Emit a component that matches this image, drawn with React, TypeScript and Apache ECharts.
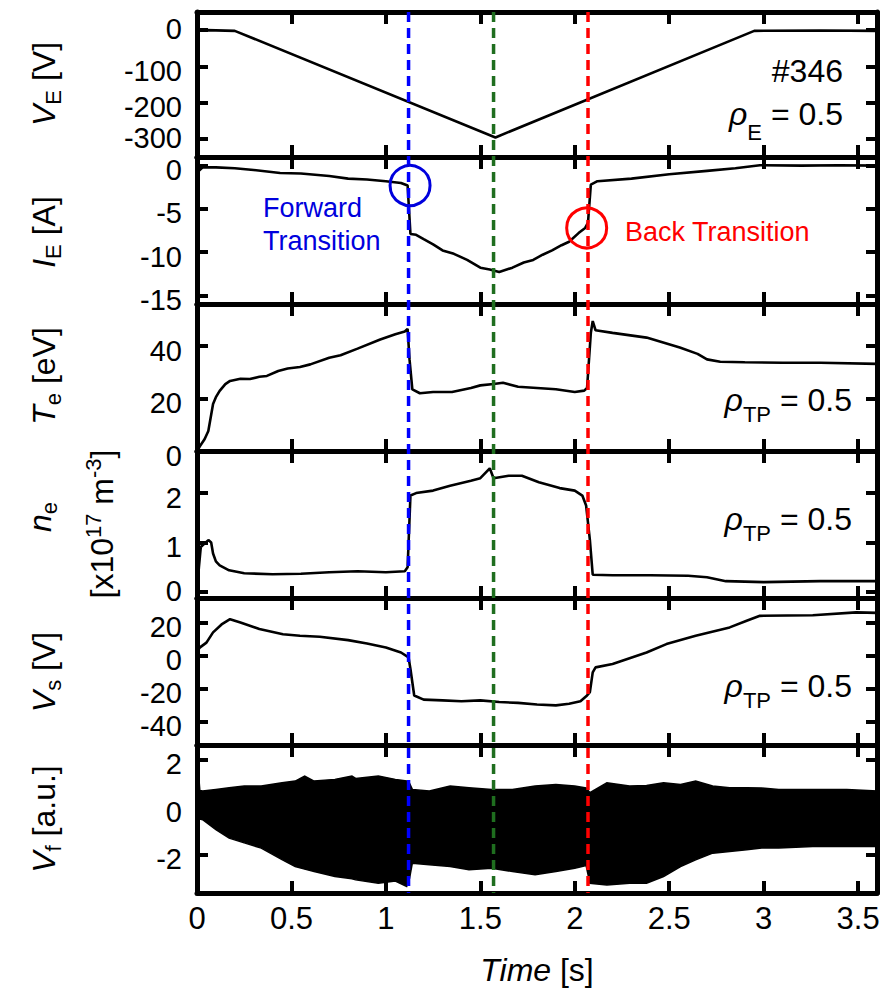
import React, { useEffect, useRef } from 'react';
import * as echarts from 'echarts';

const FONT = '"Liberation Sans", Arial, Helvetica, sans-serif';

// ---------------- data ----------------
const timeVE = [0, 0.05, 0.2, 1.58, 2.95, 3.3, 3.6];
const valVE = [-1, 0, -2, -296, -2, -1, -2];

const timeIE = [0, 0.01, 0.03, 0.1, 0.2, 0.3, 0.44, 0.55, 0.7, 0.8, 0.9, 1.0, 1.08, 1.115, 1.13, 1.16, 1.2, 1.25, 1.3, 1.36, 1.43, 1.5, 1.55, 1.6, 1.67, 1.73, 1.78, 1.83, 1.88, 1.93, 1.97, 2.02, 2.055, 2.07, 2.085, 2.12, 2.3, 2.5, 2.7, 2.85, 2.98, 3.2, 3.4, 3.6];
const valIE = [-0.3, -0.6, -0.2, -0.2, -0.3, -0.5, -0.85, -0.9, -1.2, -1.5, -1.6, -1.8, -2.0, -2.3, -7.9, -8.0, -8.5, -9.1, -9.8, -10.2, -10.9, -11.8, -12.0, -12.3, -11.8, -11.2, -10.9, -10.3, -9.8, -9.2, -8.8, -7.8, -7.2, -6.6, -2.2, -1.8, -1.5, -1.0, -0.6, -0.3, 0.05, 0, 0.05, 0];

const timeTe = [0, 0.016, 0.04, 0.06, 0.085, 0.1, 0.12, 0.15, 0.175, 0.23, 0.28, 0.33, 0.37, 0.43, 0.48, 0.545, 0.6, 0.7, 0.76, 0.85, 0.97, 1.05, 1.1, 1.115, 1.125, 1.14, 1.18, 1.25, 1.35, 1.45, 1.5, 1.57, 1.62, 1.7, 1.8, 1.9, 2.0, 2.05, 2.065, 2.085, 2.095, 2.11, 2.2, 2.38, 2.556, 2.65, 2.7, 2.77, 2.9, 3.1, 3.3, 3.6];
const valTe = [0, 1.9, 4.5, 7.6, 17.9, 20.5, 22.9, 25.5, 26.7, 27.5, 27.4, 28.3, 28.6, 30.5, 31.4, 32, 33, 35.5, 36.5, 39, 42.5, 44.5, 45.5, 46.5, 35, 23.5, 22, 22.5, 22.5, 24, 25, 25.5, 26, 24.5, 24, 23.5, 22.5, 23, 24, 45, 49.5, 46, 45, 43.2, 39.4, 37, 34.9, 34, 33.8, 33.6, 33.6, 33.2];

const timeNe = [0, 0.01, 0.02, 0.06, 0.075, 0.085, 0.1, 0.12, 0.17, 0.25, 0.4, 0.55, 0.7, 0.85, 1.0, 1.1, 1.115, 1.13, 1.16, 1.25, 1.34, 1.45, 1.5, 1.55, 1.57, 1.65, 1.72, 1.81, 1.92, 2.0, 2.04, 2.06, 2.08, 2.095, 2.2, 2.4, 2.6, 2.7, 2.8, 3.0, 3.3, 3.6];
const valNe = [0, 0.5, 0.91, 1.05, 1.0, 0.78, 0.62, 0.54, 0.44, 0.38, 0.36, 0.37, 0.4, 0.42, 0.4, 0.42, 0.5, 1.95, 2.0, 2.05, 2.15, 2.25, 2.3, 2.5, 2.3, 2.35, 2.35, 2.22, 2.1, 2.05, 1.95, 1.75, 1.05, 0.35, 0.34, 0.34, 0.33, 0.3, 0.22, 0.2, 0.22, 0.22];

const timeVs = [0, 0.016, 0.05, 0.085, 0.13, 0.175, 0.23, 0.33, 0.455, 0.545, 0.65, 0.8, 0.9, 1.0, 1.08, 1.12, 1.13, 1.15, 1.2, 1.3, 1.4, 1.5, 1.6, 1.7, 1.8, 1.9, 1.97, 2.03, 2.065, 2.08, 2.095, 2.11, 2.2, 2.38, 2.485, 2.64, 2.82, 2.91, 2.98, 3.26, 3.49, 3.6];
const valVs = [3, 5.1, 8, 14.2, 19, 22.2, 20.2, 16.2, 13.1, 12.1, 11.5, 9.5, 7.5, 5, 2, -1, -8, -24, -26.5, -27, -27.5, -27, -28, -28.5, -29.5, -30, -29, -27.5, -24, -22, -10, -7, -5, 2, 7.1, 12.1, 17.2, 21.2, 24.2, 24.6, 26.3, 26];

const timeVf = [0, 0.008, 0.015, 0.03, 0.1, 0.17, 0.25, 0.34, 0.45, 0.52, 0.57, 0.62, 0.73, 0.82, 0.84, 0.96, 1.05, 1.11, 1.125, 1.14, 1.23, 1.34, 1.44, 1.56, 1.67, 1.79, 1.9, 2.0, 2.06, 2.08, 2.17, 2.29, 2.38, 2.47, 2.56, 2.64, 2.73, 2.82, 2.91, 2.99, 3.08, 3.26, 3.44, 3.6];
const hiVf = [1.45, 1.4, 0.7, 0.67, 0.74, 0.81, 0.88, 0.88, 1.02, 1.09, 1.3, 1.09, 1.16, 1.3, 1.2, 1.3, 1.16, 1.09, 1.0, 0.74, 0.67, 0.88, 0.81, 0.74, 0.74, 0.88, 0.95, 0.88, 0.8, 0.6, 1.02, 0.88, 0.9, 1.02, 0.95, 1.09, 0.88, 0.81, 0.81, 0.8, 0.74, 0.74, 0.74, 0.67];
const loVf = [-2.8, -0.6, -0.5, -0.53, -0.95, -1.3, -1.5, -1.72, -2.2, -2.49, -2.6, -2.7, -2.91, -3.0, -3.05, -3.19, -3.1, -3.33, -3.0, -2.35, -2.42, -2.49, -2.63, -2.56, -2.7, -2.84, -2.7, -2.56, -2.45, -3.19, -3.26, -3.19, -3.19, -2.91, -2.49, -2.21, -1.93, -1.86, -1.79, -1.72, -1.72, -1.65, -1.65, -1.65];

const xTicks = [0, 0.5, 1, 1.5, 2, 2.5, 3, 3.5];
const yTicksVE = [0, -100, -200, -300];
const yTicksIE = [0, -5, -10, -15];
const yTicksTe = [0, 20, 40];
const yTicksNe = [0, 1, 2];
const yTicksVs = [20, 0, -20, -40];
const yTicksVf = [2, 0, -2];

const tForward = 1.12;
const tMiddle = 1.57;
const tBack = 2.07;
const circleForward = [1.128, -2.3];
const circleBack = [2.063, -7.2];

const zip = (xs: number[], ys: number[]) => xs.map((x, i) => [x, ys[i]]);

export default function App() {
  const ref = useRef<HTMLDivElement>(null);

  useEffect(() => {
    document.body.style.margin = '0';
    const chart = echarts.init(ref.current!, null, { renderer: 'svg' });

    // raised: labels that sit right at a panel border get no downward nudge
    const panels = [
      { min: -350, max: 50, ticks: yTicksVE, raised: [0, -300] },
      { min: -16, max: 1, ticks: yTicksIE, raised: [] as number[] },
      { min: 0, max: 56, ticks: yTicksTe, raised: [] as number[] },
      { min: -0.12, max: 2.85, ticks: yTicksNe, raised: [0] },
      { min: -54, max: 35, ticks: yTicksVs, raised: [] as number[] },
      { min: -3.6, max: 2.6, ticks: yTicksVf, raised: [] as number[] },
    ];
    const tops = [12, 157, 304, 451, 598, 745, 893];

    const LS = 29;
    const yRich = {
      d: { fontSize: LS, fontFamily: FONT, color: '#000', padding: [9, 0, 0, 0] },
      u: { fontSize: LS, fontFamily: FONT, color: '#000', padding: [0, 0, 2, 0] },
    };

    const grid = panels.map((_, i) => ({ left: 197, right: 11, top: tops[i], height: tops[i + 1] - tops[i] }));
    const axisLine = { show: true, onZero: false, lineStyle: { color: '#000', width: 5 } };
    const xAxis: any[] = [];
    const yAxis: any[] = [];
    panels.forEach((p, i) => {
      ['bottom', 'top'].forEach((pos) => {
        xAxis.push({
          gridIndex: i, type: 'value', min: 0, max: 3.6, position: pos,
          axisLine,
          axisTick: { show: true, inside: true, length: 12, customValues: xTicks, lineStyle: { color: '#000', width: 4 } },
          axisLabel: { show: pos === 'bottom' && i === 5, customValues: xTicks, color: '#000', fontSize: 31, fontFamily: FONT, margin: 10 },
          splitLine: { show: false },
        });
      });
      ['left', 'right'].forEach((pos) => {
        yAxis.push({
          gridIndex: i, type: 'value', min: p.min, max: p.max, position: pos,
          axisLine,
          axisTick: { show: true, inside: true, length: 11, customValues: p.ticks, lineStyle: { color: '#000', width: 4 } },
          axisLabel: {
            show: pos === 'left', customValues: p.ticks, color: '#000', fontSize: LS, fontFamily: FONT, margin: 15,
            formatter: (v: number) => `{${p.raised.indexOf(v) >= 0 ? 'u' : 'd'}|${v}}`,
            rich: yRich,
          },
          splitLine: { show: false },
        });
      });
    });

    const lineSeries = (i: number, xs: number[], ys: number[]) => ({
      type: 'line', xAxisIndex: 2 * i, yAxisIndex: 2 * i, data: zip(xs, ys),
      symbol: 'none', showSymbol: false, lineStyle: { color: '#000', width: 2.6 }, z: 3,
    });

    const vfRows = timeVf.map((t, i) => [t, hiVf[i], loVf[i]]);

    const series: any[] = [
      lineSeries(0, timeVE, valVE),
      lineSeries(1, timeIE, valIE),
      lineSeries(2, timeTe, valTe),
      lineSeries(3, timeNe, valNe),
      lineSeries(4, timeVs, valVs),
      {
        type: 'custom', xAxisIndex: 10, yAxisIndex: 10, data: vfRows,
        encode: { x: 0, y: [1, 2] }, z: 3,
        renderItem: (params: any, api: any) => {
          if (params.dataIndex !== 0) return null;
          const upper = vfRows.map((r) => api.coord([r[0], r[1]]));
          const lower = vfRows.slice().reverse().map((r) => api.coord([r[0], r[2]]));
          return {
            type: 'polygon',
            shape: { points: upper.concat(lower) },
            style: { fill: '#000', stroke: '#000', lineWidth: 1.5 },
          };
        },
      },
    ];

    chart.setOption({ animation: false, backgroundColor: '#fff', grid, xAxis, yAxis, series });

    const px = (gi: number, v: number[]) => chart.convertToPixel({ gridIndex: gi }, v) as number[];
    const yTop = px(0, [0, 50])[1];
    const yBot = px(5, [0, -3.6])[1];
    const vline = (t: number, color: string) => {
      const x = px(0, [t, 0])[0];
      return { type: 'line', z: 100, shape: { x1: x, y1: yTop, x2: x, y2: yBot }, style: { stroke: color, lineWidth: 3.5, lineDash: [10, 6] } };
    };
    const circ = (c: number[], color: string) => {
      const p = px(1, c);
      return { type: 'circle', z: 101, shape: { cx: p[0], cy: p[1], r: 20 }, style: { fill: 'none', stroke: color, lineWidth: 3 } };
    };

    const TS = 32;
    const richAxis = {
      i: { fontStyle: 'italic', fontSize: TS, fontFamily: FONT, fill: '#000' },
      n: { fontSize: TS, fontFamily: FONT, fill: '#000' },
      s: { fontSize: 22, fontFamily: FONT, fill: '#000', padding: [18, 0, 0, 0] },
      p: { fontSize: 22, fontFamily: FONT, fill: '#000', padding: [0, 0, 18, 0] },
    };
    const vtext = (x: number, y: number, text: string) => ({
      type: 'text', x, y, rotation: Math.PI / 2, z: 50,
      style: { text, rich: richAxis, align: 'center', verticalAlign: 'middle', textAlign: 'center', textVerticalAlign: 'middle', fontSize: TS, fontFamily: FONT, fill: '#000' },
    });
    const htext = (x: number, y: number, text: string, align: string, color: string, size: number, rich?: any) => ({
      type: 'text', x, y, z: 50,
      style: { text, rich, align, verticalAlign: 'middle', textAlign: align, textVerticalAlign: 'middle', fontSize: size, fontFamily: FONT, fill: color, lineHeight: 33 },
    });
    const richRho = (subPad: number) => ({
      r: { fontStyle: 'italic', fontSize: 32, fontFamily: FONT, fill: '#000' },
      s: { fontSize: 22, fontFamily: FONT, fill: '#000', padding: [subPad, 0, 0, 0] },
      n: { fontSize: 32, fontFamily: FONT, fill: '#000' },
    });

    chart.setOption({
      graphic: [
        vline(tForward, '#0000ff'),
        vline(tMiddle, '#1f6e1f'),
        vline(tBack, '#ff0000'),
        circ(circleForward, '#0000dd'),
        circ(circleBack, '#ff0000'),
        vtext(44, 84, '{i|V}{s|E}{n| [V]}'),
        vtext(44, 232, '{i|I}{s|E}{n| [A]}'),
        vtext(44, 376, '{i|T}{s|e}{n| [eV]}'),
        vtext(40, 517, '{i|n}{s|e}'),
        vtext(102, 524, '{n|[x10}{p|17}{n| m}{p|-3}{n|]}'),
        vtext(44, 672, '{i|V}{s|s}{n| [V]}'),
        vtext(44, 819, '{i|V}{s|f}{n| [a.u.]}'),
        htext(537, 970, '{i|Time}{n| [s]}', 'center', '#000', 32, richAxis),
        htext(843, 71, '#346', 'right', '#000', 32),
        htext(843, 114, '{r|ρ}{s|E}{n| = 0.5}', 'right', '#000', 32, richRho(36)),
        htext(852, 400, '{r|ρ}{s|TP}{n| = 0.5}', 'right', '#000', 32, richRho(28)),
        htext(852, 519, '{r|ρ}{s|TP}{n| = 0.5}', 'right', '#000', 32, richRho(28)),
        htext(852, 686, '{r|ρ}{s|TP}{n| = 0.5}', 'right', '#000', 32, richRho(28)),
        htext(263, 224, 'Forward\nTransition', 'left', '#0000dd', 27),
        htext(625, 232, 'Back Transition', 'left', '#ff0000', 27),
      ],
    });

    return () => chart.dispose();
  }, []);

  return <div ref={ref} style={{ width: 888, height: 998, position: 'absolute', left: 0, top: 0 }} />;
}
